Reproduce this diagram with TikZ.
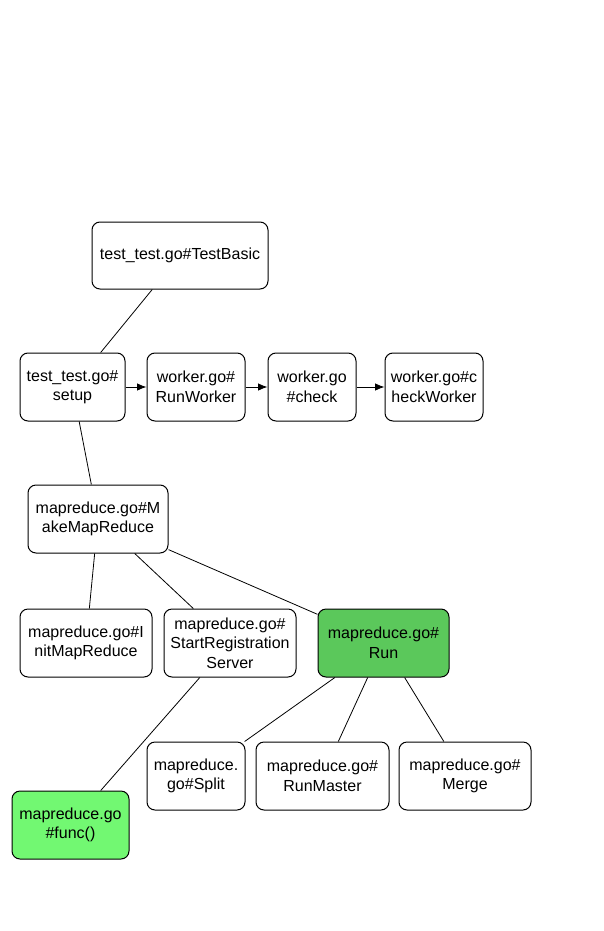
\documentclass[tikz,border=0pt]{standalone}
\usepackage{fontspec}
\usetikzlibrary{arrows.meta}
\setmainfont{Liberation Sans}
\definecolor{rungreen}{HTML}{5BC85B}
\definecolor{funcgreen}{HTML}{72F872}

\begin{document}
\begin{tikzpicture}[x=0.75pt,y=-0.75pt,
  box/.style={draw,rounded corners=6pt,line width=0.75pt,align=center,
    minimum height=51pt,inner sep=0pt,font=\fontsize{12}{14.6}\selectfont},
  link/.style={line width=0.6pt},
  flow/.style={link,-{Latex[length=7pt,width=5.5pt]}}]
\useasboundingbox (0,0) rectangle (603,931);
\node (t-TestBasic) at (180,255.5) [box,minimum width=132pt,minimum height=50.25pt] {test\_test.go\#TestBasic};
\node (t-setup) at (72.5,387) [box,minimum width=78.75pt] {test\_test.go\#\\setup};
\node (t-RunWorker) at (196,387) [box,minimum width=73.5pt] {worker.go\#\\RunWorker};
\node (t-check) at (312,387) [box,minimum width=66pt] {worker.go\\\#check};
\node (t-checkWorker) at (434,387) [box,minimum width=73.5pt] {worker.go\#c\\heckWorker};
\node (t-MakeMapReduce) at (98,519) [box,minimum width=105pt] {mapreduce.go\#M\\akeMapReduce};
\node (t-InitMapReduce) at (86,643) [box,minimum width=99pt] {mapreduce.go\#I\\nitMapReduce};
\node (t-StartReg) at (230,643) [box,minimum width=99pt] {mapreduce.go\#\\StartRegistration\\Server};
\node (t-Run) at (383.5,643) [box,minimum width=98.25pt,fill=rungreen] {mapreduce.go\#\\Run};
\node (t-Split) at (196,776) [box,minimum width=73.5pt] {mapreduce.\\go\#Split};
\node (t-RunMaster) at (322.5,776) [box,minimum width=99.75pt] {mapreduce.go\#\\RunMaster};
\node (t-Merge) at (465,776) [box,minimum width=99pt] {mapreduce.go\#\\Merge};
\node (t-func) at (70.5,825) [box,minimum width=87.75pt,fill=funcgreen] {mapreduce.go\\\#func()};
\draw[link] (t-TestBasic) -- (t-setup);
\draw[flow] (t-setup) -- (t-RunWorker);
\draw[flow] (t-RunWorker) -- (t-check);
\draw[flow] (t-check) -- (t-checkWorker);
\draw[link] (t-setup) -- (t-MakeMapReduce);
\draw[link] (t-MakeMapReduce) -- (t-InitMapReduce);
\draw[link] (t-MakeMapReduce) -- (t-StartReg);
\draw[link] (t-MakeMapReduce) -- (t-Run);
\draw[link] (t-StartReg) -- (t-func);
\draw[link] (t-Run) -- (t-Split);
\draw[link] (t-Run) -- (t-RunMaster);
\draw[link] (t-Run) -- (t-Merge);
\end{tikzpicture}
\end{document}
